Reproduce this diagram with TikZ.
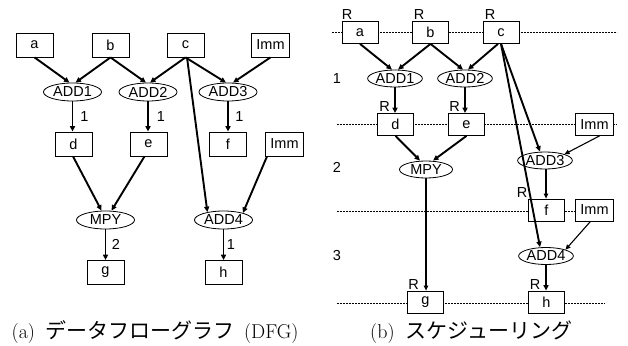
\documentclass[tikz,border=0pt]{standalone}
\usepackage{fontspec}
\newfontfamily\arialf{Liberation Sans}
\newfontfamily\jpf{Noto Sans CJK JP}
\usetikzlibrary{arrows.meta,shapes.geometric}
\begin{document}
\begin{tikzpicture}[x=1pt,y=-1pt,
  every node/.style={font=\arialf\fontsize{14.5}{16}\selectfont},
  box/.style={draw, line width=0.8pt, fill=white, minimum width=37pt, minimum height=24pt, inner xsep=5pt, inner ysep=0pt},
  rbox/.style={box, minimum width=36pt, minimum height=22pt},
  op/.style={draw, ellipse, line width=0.8pt, fill=white, inner sep=0pt, minimum width=58pt, minimum height=18pt},
  rop/.style={op, minimum width=53pt, minimum height=17pt},
  thk/.style={line width=1.9pt, -{Triangle[length=5.5pt,width=5pt]}},
  thn/.style={line width=1.1pt, -{Triangle[length=5pt,width=4.5pt]}},
  lab/.style={inner sep=0pt},
  rlab/.style={inner sep=0pt, anchor=south west},
  dashline/.style={line width=0.8pt, dash pattern=on 2pt off 1pt},
  captext/.style={inner sep=0pt, anchor=west, font=\rmfamily\fontsize{20}{24}\selectfont},
]
\useasboundingbox (0,0) rectangle (628,345);
% ---------- dashed time steps (right) ----------
\coordinate (t0l) at (332,32.5); \coordinate (t0r) at (617,32.5);
\coordinate (t1l) at (337,124.5); \coordinate (t1r) at (617,124.5);
\coordinate (t2l) at (337,211); \coordinate (t2r) at (613,211);
\coordinate (t3l) at (337,303); \coordinate (t3r) at (605,303);
\draw[dashline] (t0l) -- (t0r);
\draw[dashline] (t1l) -- (t1r);
\draw[dashline] (t2l) -- (t2r);
\draw[dashline] (t3l) -- (t3r);

% ---------- (a) DFG ----------
\node[box] (a) at (34.5,45) {a};
\node[box] (b) at (110.5,45) {b};
\node[box] (c) at (185.5,45) {c};
\node[box] (imm1) at (270.5,45) {Imm};
\node[op] (add1) at (72.5,92) {ADD1};
\node[op] (add2) at (148,92) {ADD2};
\node[op] (add3) at (228,92) {ADD3};
\node[box] (d) at (73.5,144) {d};
\node[box] (e) at (148.5,144) {e};
\node[box] (f) at (228,144) {f};
\node[box] (imm2) at (284.5,144) {Imm};
\node[op] (mpy) at (105.5,220) {MPY};
\node[op] (add4) at (223.5,220) {ADD4};
\node[box] (g) at (105.5,272.5) {g};
\node[box] (h) at (223.5,272.5) {h};

\draw[thk] (a.south) -- ([xshift=-3pt]add1.north);
\draw[thk] (b.south) -- ([xshift=3pt]add1.north);
\draw[thk] (b.south) -- ([xshift=-2pt]add2.north);
\draw[thk] (c.south) -- ([xshift=2pt]add2.north);
\draw[thk] (c.south) -- ([xshift=-2pt]add3.north);
\draw[thk] (imm1.south) -- ([xshift=5pt]add3.north);
\draw[thk] (add1.south) -- (add1.south |- d.north) node[midway, lab, right=7pt] (l1) {1};
\draw[thk] (add2.south) -- (add2.south |- e.north) node[midway, lab, right=8pt] (l2) {1};
\draw[thk] (add3.south) -- (add3.south |- f.north) node[midway, lab, right=6.5pt] (l3) {1};
\draw[thk] ([xshift=-0.5pt]d.south) -- ([xshift=-4pt]mpy.north);
\draw[thk] ([xshift=-4pt]e.south) -- ([xshift=6pt]mpy.north);
\draw[thk] ([xshift=1.5pt]c.south) -- (add4.154);
\draw[thk] ([xshift=2pt]imm2.south west) -- (add4.20);
\draw[thk] (mpy.south) -- (g.north) node[midway, lab, right=5.5pt] (l4) {2};
\draw[thk] (add4.south) -- (h.north) node[midway, lab, right=2.5pt] (l5) {1};

% ---------- (b) scheduling ----------
\node[rbox] (ra) at (360,32.5) {a};
\node[rbox] (rb) at (430.5,32.5) {b};
\node[rbox] (rc) at (501,32.5) {c};
\node[rop] (radd1) at (395,78.5) {ADD1};
\node[rop] (radd2) at (465,78.5) {ADD2};
\node[rbox] (rd) at (395.5,124.5) {d};
\node[rbox] (re) at (466.5,124.5) {e};
\node[rbox] (rimm1) at (594.5,124.5) {Imm};
\node[rop] (rmpy) at (426,169.5) {MPY};
\node[rop] (radd3) at (545,160.5) {ADD3};
\node[rbox] (rf) at (546.5,210) {f};
\node[rbox] (rimm2) at (594.5,210) {Imm};
\node[rop] (radd4) at (546,256) {ADD4};
\node[rbox] (rg) at (425.5,302) {g};
\node[rbox] (rh) at (546.5,302) {h};

\node[lab] (s1) at (337,79) {1};
\node[lab] (s2) at (337,167) {2};
\node[lab] (s3) at (337,256) {3};

\node[rlab] (Ra) at ([yshift=1pt]ra.north west) {R};
\node[rlab] (Rb) at ([xshift=1.5pt,yshift=1pt]rb.north west) {R};
\node[rlab] (Rc) at ([xshift=2pt,yshift=1pt]rc.north west) {R};
\node[rlab] (Rd) at ([xshift=2pt,yshift=1pt]rd.north west) {R};
\node[rlab] (Re) at ([xshift=1pt,yshift=1pt]re.north west) {R};
\node[rlab, anchor=south east] (Rf) at ([xshift=-0.5pt,yshift=1pt]rf.north west) {R};
\node[rlab] (Rg) at ([xshift=1pt,yshift=1pt]rg.north west) {R};
\node[rlab] (Rh) at ([xshift=1.5pt,yshift=1pt]rh.north west) {R};

\draw[thk] (ra.south) -- ([xshift=-3pt]radd1.north);
\draw[thk] (rb.south) -- ([xshift=3pt]radd1.north);
\draw[thk] (rb.south) -- ([xshift=-2pt]radd2.north);
\draw[thk] ([xshift=-3pt]rc.south) -- ([xshift=3pt]radd2.north);
\draw[thk] (rc.south) -- ([xshift=-5pt]radd3.north);
\draw[thk] (rc.south) -- ([xshift=-6pt]radd4.north);
\draw[thn] ([xshift=5pt]rimm1.south) -- (radd3.18);
\draw[thk] (radd1.south) -- (radd1.south |- rd.north);
\draw[thk] (radd2.south) -- (radd2.south |- re.north);
\draw[thk] (rd.south) -- ([xshift=-6pt]rmpy.north);
\draw[thk] (re.south) -- ([xshift=7pt]rmpy.north);
\draw[thn] (rmpy.south) -- (rmpy.south |- rg.north);
\draw[thn] ([xshift=1pt]radd3.south) -- ([xshift=1pt]radd3.south |- rf.north);
\draw[thn] ([xshift=-4pt]rimm2.south) -- (radd4.18);
\draw[thk] (radd4.south) -- (radd4.south |- rh.north);

% ---------- captions ----------
\node[captext] (capa) at (11.5,332.5) {(a)\hspace{10pt}{\jpf\fontsize{21}{24}\selectfont データフローグラフ}\hspace{10pt}(DFG)};
\node[captext] (capb) at (370,332.5) {(b)\hspace{11pt}{\jpf\fontsize{21}{24}\selectfont スケジューリング}};
\end{tikzpicture}
\end{document}
